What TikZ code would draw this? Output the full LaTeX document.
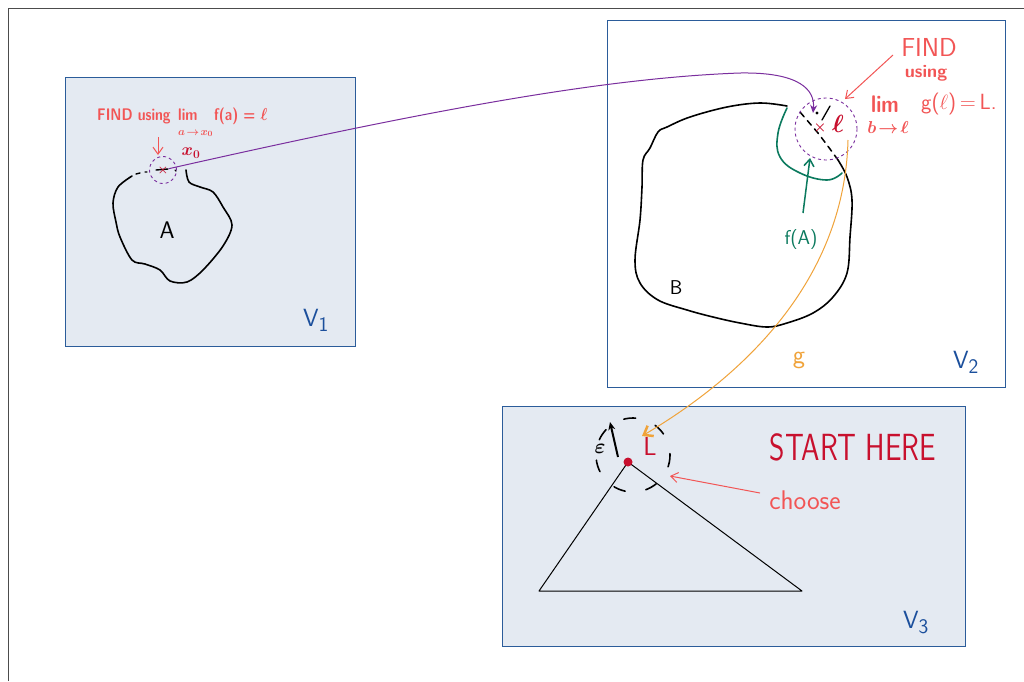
\documentclass[tikz,border=0pt]{standalone}
\usepackage{amsmath}
\usetikzlibrary{arrows.meta}
\definecolor{boxfill}{HTML}{E4EAF2}
\definecolor{boxline}{HTML}{2B5C9A}
\definecolor{vblue}{HTML}{1B4F9C}
\definecolor{salmon}{HTML}{F25555}
\definecolor{dred}{HTML}{C8102E}
\definecolor{vpurple}{HTML}{7A2E9E}
\definecolor{vgreen}{HTML}{0B7A5E}
\definecolor{vorange}{HTML}{F0A33A}
\tikzset{
  space/.style={draw=boxline, line width=1pt, inner sep=0pt},
  blob/.style={draw=black, line width=1.6pt, line cap=round, line join=round},
  vlabel/.style={text=vblue, font=\fontsize{30}{30}\selectfont\sffamily, inner sep=0pt},
  note/.style={text=salmon, font=\sffamily, inner sep=0pt},
  barb/.style={-{Straight Barb[length=7pt,width=10pt]}, line width=1pt},
}
\begin{document}
\begin{tikzpicture}[x=1pt,y=-1pt]
\useasboundingbox (0,0) rectangle (1024,681);
\fill[white] (0,0) rectangle (1024,681);
\draw[black!70, line width=0.8pt] (8,681) -- (8,8) -- (1024,8);

% spaces
\node[space, fill=boxfill, minimum width=290pt, minimum height=269pt] (V1) at (210,211.5) {};
\node[space, fill=white, minimum width=398pt, minimum height=367pt] (V2) at (806,203.5) {};
\node[space, fill=boxfill, minimum width=463pt, minimum height=240pt] (V3) at (733.5,526) {};

\node[vlabel] (V1lab) at (316,320) {$\mathsf{V}_{\mathsf{1}}$};
\node[vlabel] (V2lab) at (966,362) {$\mathsf{V}_{\mathsf{2}}$};
\node[vlabel] (V3lab) at (916,622) {$\mathsf{V}_{\mathsf{3}}$};

% ---------- V1 ----------
\draw[blob] plot[smooth, tension=0.55] coordinates {(132,176) (118,187) (113,203) (116,222) (120,237) (132,260) (145,264) (160,270) (170,281) (187,282) (203,270) (223,246) (232,225) (223,207) (213,192) (200,187) (189,182) (186,170)};
\draw[blob, line width=1.4pt] (136,174) -- (140,173) (145,172) -- (147,172) (156,170) -- (168,169) (175,170) -- (176,171);
\node[font=\fontsize{24}{24}\selectfont\sffamily, inner sep=0pt] (Alab) at (167,230) {A};
\node[draw=vpurple, dashed, line width=0.9pt, circle, minimum size=27pt, inner sep=0pt] (c1) at (163,170) {};
\node[text=dred, font=\bfseries\fontsize{12}{12}\selectfont, inner sep=0pt] (x0) at (163,170) {$\boldsymbol{\times}$};
\node[text=dred, font=\fontsize{17}{17}\selectfont, inner sep=0pt] (x0lab) at (191,153) {$\boldsymbol{x_0}$};
\node[note, font=\sffamily\bfseries\fontsize{14}{14}\selectfont, anchor=base west] (find1) at (97,120) {\scalebox{1}[1.2]{FIND using}};
\node[note, font=\sffamily\bfseries\fontsize{14}{14}\selectfont, anchor=base west] (lim1) at (178,120) {\scalebox{1}[1.2]{lim}};
\node[note, font=\sffamily\bfseries\fontsize{11}{11}\selectfont, anchor=base west] (sub1) at (178,135) {$\boldsymbol{a\!\to\! x_0}$};
\node[note, font=\sffamily\bfseries\fontsize{14}{14}\selectfont, anchor=base west] (fa1) at (214,120) {\scalebox{1}[1.2]{f(a) = $\boldsymbol{\ell}$}};
\coordinate (find1a) at (158,137);
\draw[salmon, barb] (find1a) -- (158,155);

% ---------- V2 ----------
\draw[blob] plot[smooth, tension=0.6] coordinates {(787,106) (760,103) (727,107) (690,117) (667,127) (658,132) (650,148) (643,160) (642,187) (640,220) (635,260) (640,283) (658,300) (687,310) (713,317) (740,323) (767,327) (787,323) (813,313) (833,297) (847,273) (850,237) (852,200) (847,177) (838,160)};
\draw[blob, line width=1.5pt, dash pattern=on 6pt off 5pt] (838,160) -- (830,149) -- (818,133) -- (800,112);
\draw[blob, line width=1.3pt] (822,120) -- (830,106);
\fill (817,113) circle (1.6);
\node[draw=vpurple, dashed, line width=0.9pt, circle, minimum size=62pt, inner sep=0pt] (c2) at (826,129) {};
\node[text=dred, font=\fontsize{14}{14}\selectfont, inner sep=0pt] (xl) at (820,128) {$\boldsymbol{\times}$};
\node[text=dred, font=\fontsize{26}{26}\selectfont, inner sep=0pt] (ell) at (838,124) {$\boldsymbol{\ell}$};
\coordinate (ellin) at (813,113);
\node[font=\fontsize{20}{20}\selectfont\sffamily, inner sep=0pt] (Blab) at (676,288) {B};

% f(A)
\draw[vgreen, line width=1.6pt, line cap=round] plot[smooth, tension=0.7] coordinates {(787,108) (778,133) (780,157) (800,173) (827,180) (842,173)};
\node[text=vgreen, font=\fontsize{20}{20}\selectfont\sffamily, inner sep=0pt] (fA) at (801,240) {f(A)};
\draw[vgreen, barb, line width=1.5pt] (803,213) -- (810,158);

% FIND (right)
\node[note, font=\sffamily\fontsize{26}{26}\selectfont] (find2) at (929,47) {FIND};
\node[note, font=\sffamily\bfseries\fontsize{18}{18}\selectfont] (using2) at (926,73) {using};
\node[note, font=\sffamily\bfseries\fontsize{20}{20}\selectfont, anchor=base] (lim2) at (885,112) {\scalebox{1}[1.2]{lim}};
\node[note, font=\sffamily\bfseries\fontsize{16}{16}\selectfont, anchor=base] (sub2) at (888,133) {$\boldsymbol{b\!\to\!\ell}$};
\node[note, font=\sffamily\fontsize{22}{22}\selectfont, anchor=west] (gL) at (921,104) {g($\ell$)\,=\,L.};
\draw[salmon, barb] (893,55) -- (845,99);

% purple map f
\draw[vpurple, line width=1pt, -{Stealth[length=8pt,width=7pt]}] (x0) .. controls (420,112) and (600,78) .. (740,73) .. controls (800,72) and (815,90) .. (ellin);

% ---------- V3 ----------
\coordinate (apex) at (628,462);
\coordinate (bl) at (539,591);
\coordinate (br) at (802,591);
\draw[black, line width=1pt, line join=round] (apex) -- (bl) -- (br) -- cycle;
\draw[black, line width=1.6pt, dash pattern=on 12pt off 21pt, line cap=round] (633,455) circle (37);
\fill[dred] (apex) circle (4.5);
\node[text=dred, font=\sffamily\fontsize{26}{26}\selectfont, inner sep=0pt] (Llab) at (650,446) {L};
\draw[black, line width=2pt, -{Stealth[length=8pt,width=7pt]}] (618,457) -- (610,422);
\node[font=\fontsize{22}{22}\selectfont, inner sep=0pt] (eps) at (600,449) {$\boldsymbol{\varepsilon}$};

\node[text=dred, font=\sffamily\fontsize{28}{28}\selectfont, inner sep=0pt] (start) at (853,447) {\scalebox{1.05}[1.35]{START HERE}};
\node[note, font=\sffamily\fontsize{27}{27}\selectfont] (choose) at (805,500) {choose};
\coordinate (choosea) at (760,493);
\draw[salmon, barb] (choosea) -- (670,476);

% orange map g
\coordinate (gstart) at (848,140);
\coordinate (Lin) at (642,436);
\draw[vorange, line width=1pt, -{Straight Barb[length=8pt,width=12pt, line width=2.5pt]}] (gstart) .. controls (845,260) and (770,360) .. (Lin);
\node[text=vorange, font=\sffamily\fontsize{26}{26}\selectfont, inner sep=0pt] (glab) at (799,360) {g};
\end{tikzpicture}
\end{document}
